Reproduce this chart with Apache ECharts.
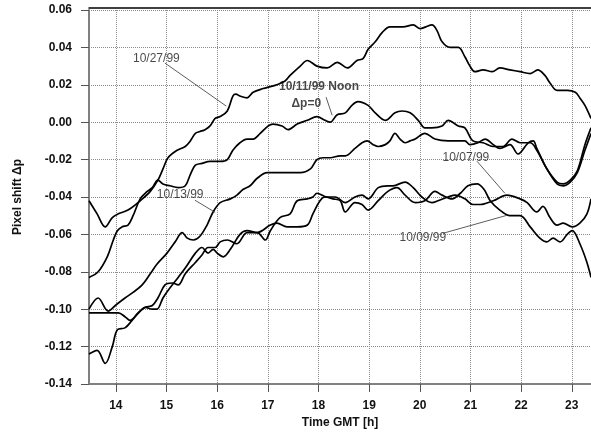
<!DOCTYPE html>
<html>
<head>
<meta charset="utf-8">
<script src="https://cdn.jsdelivr.net/npm/echarts@6/dist/echarts.min.js"></script>
<style>
  html, body { margin: 0; padding: 0; background: #fff; }
  #main { width: 591px; height: 434px; }
</style>
</head>
<body>
<div id="main"></div>
<script>
// pixel shift (Δp) against time GMT [h], one array per date
var d1027 = [
  [13.47,-0.042],[13.63,-0.049],[13.79,-0.056],[13.93,-0.051],[14.05,-0.049],[14.24,-0.047],[14.48,-0.042],
  [14.68,-0.037],[14.83,-0.031],[14.93,-0.025],[15.03,-0.019],[15.21,-0.015],[15.37,-0.013],[15.47,-0.010],
  [15.57,-0.006],[15.66,-0.005],[15.76,-0.004],[15.86,-0.002],[15.96,0.002],[16.06,0.003],[16.20,0.006],
  [16.31,0.014],[16.37,0.015],[16.45,0.014],[16.59,0.013],[16.71,0.016],[16.91,0.018],[17.05,0.019],
  [17.18,0.020],[17.34,0.022],[17.44,0.025],[17.64,0.030],[17.78,0.033],[17.97,0.030],[18.17,0.029],
  [18.37,0.032],[18.57,0.029],[18.76,0.033],[18.88,0.034],[18.98,0.039],[19.12,0.043],[19.26,0.048],
  [19.41,0.051],[19.67,0.051],[19.87,0.052],[20.01,0.050],[20.12,0.051],[20.24,0.052],[20.34,0.049],
  [20.44,0.043],[20.60,0.040],[20.76,0.040],[20.89,0.035],[20.99,0.030],[21.09,0.027],[21.25,0.028],
  [21.43,0.027],[21.58,0.029],[21.78,0.028],[21.98,0.027],[22.18,0.026],[22.33,0.028],[22.47,0.025],
  [22.57,0.021],[22.71,0.017],[22.91,0.017],[23.07,0.016],[23.16,0.013],[23.26,0.009],[23.38,0.002]
];
var d1011 = [
  [13.47,-0.083],[13.65,-0.080],[13.83,-0.072],[13.95,-0.063],[14.03,-0.058],[14.12,-0.056],[14.24,-0.055],
  [14.34,-0.050],[14.48,-0.041],[14.62,-0.037],[14.72,-0.035],[14.83,-0.031],[14.93,-0.033],[15.07,-0.034],
  [15.23,-0.035],[15.37,-0.034],[15.47,-0.028],[15.57,-0.023],[15.70,-0.022],[15.86,-0.021],[16.06,-0.021],
  [16.20,-0.020],[16.31,-0.015],[16.45,-0.011],[16.59,-0.009],[16.71,-0.009],[16.85,-0.006],[17.01,-0.002],
  [17.10,-0.001],[17.28,-0.002],[17.40,-0.004],[17.58,-0.001],[17.78,0.001],[17.97,0.003],[18.13,0.001],
  [18.23,0.000],[18.37,0.004],[18.53,0.005],[18.66,0.009],[18.78,0.011],[18.98,0.009],[19.12,0.005],
  [19.32,0.001],[19.51,0.005],[19.65,0.006],[19.81,0.005],[19.97,0.001],[20.10,-0.003],[20.24,-0.003],
  [20.44,-0.002],[20.56,0.001],[20.76,-0.002],[20.89,-0.003],[21.05,-0.010],[21.25,-0.011],[21.45,-0.013],
  [21.64,-0.013],[21.82,-0.009],[21.98,-0.011],[22.18,-0.011],[22.31,-0.015],[22.51,-0.025],[22.71,-0.032],
  [22.83,-0.033],[22.97,-0.031],[23.11,-0.026],[23.26,-0.012],[23.38,-0.003]
];
var d1013 = [
  [13.47,-0.100],[13.65,-0.094],[13.85,-0.101],[13.99,-0.098],[14.18,-0.094],[14.34,-0.091],[14.52,-0.087],
  [14.68,-0.081],[14.81,-0.076],[15.01,-0.070],[15.17,-0.064],[15.31,-0.059],[15.41,-0.062],[15.53,-0.063],
  [15.66,-0.061],[15.80,-0.055],[15.92,-0.048],[16.06,-0.043],[16.26,-0.041],[16.39,-0.039],[16.51,-0.036],
  [16.65,-0.034],[16.79,-0.030],[16.99,-0.027],[17.18,-0.027],[17.38,-0.027],[17.64,-0.027],[17.84,-0.025],
  [17.97,-0.020],[18.09,-0.019],[18.23,-0.019],[18.43,-0.018],[18.53,-0.018],[18.72,-0.014],[18.86,-0.011],
  [18.96,-0.010],[19.08,-0.012],[19.18,-0.013],[19.32,-0.012],[19.41,-0.010],[19.51,-0.006],[19.61,-0.009],
  [19.71,-0.011],[19.81,-0.010],[19.91,-0.009],[20.10,-0.006],[20.30,-0.009],[20.56,-0.010],[20.76,-0.010],
  [20.89,-0.010],[20.99,-0.012],[21.15,-0.011],[21.29,-0.009],[21.45,-0.012],[21.58,-0.014],[21.78,-0.012],
  [21.94,-0.017],[22.14,-0.011],[22.24,-0.010],[22.31,-0.014],[22.51,-0.025],[22.71,-0.033],[22.83,-0.034],
  [22.97,-0.032],[23.11,-0.027],[23.26,-0.015],[23.38,-0.006]
];
var d1007 = [
  [13.47,-0.102],[13.63,-0.102],[13.79,-0.102],[14.05,-0.102],[14.18,-0.104],[14.28,-0.106],[14.44,-0.102],
  [14.58,-0.099],[14.72,-0.098],[14.83,-0.094],[14.97,-0.087],[15.11,-0.086],[15.23,-0.087],[15.37,-0.081],
  [15.57,-0.075],[15.70,-0.071],[15.82,-0.067],[15.96,-0.067],[16.06,-0.064],[16.20,-0.063],[16.39,-0.065],
  [16.59,-0.059],[16.79,-0.059],[16.95,-0.063],[17.05,-0.058],[17.24,-0.051],[17.44,-0.049],[17.58,-0.042],
  [17.78,-0.041],[17.89,-0.040],[17.97,-0.038],[18.17,-0.040],[18.33,-0.040],[18.53,-0.043],[18.72,-0.040],
  [18.86,-0.039],[18.98,-0.041],[19.18,-0.035],[19.37,-0.034],[19.47,-0.034],[19.71,-0.032],[19.87,-0.035],
  [20.04,-0.040],[20.24,-0.043],[20.36,-0.042],[20.56,-0.040],[20.70,-0.039],[20.89,-0.041],[21.05,-0.044],
  [21.19,-0.044],[21.45,-0.042],[21.72,-0.039],[21.98,-0.041],[22.12,-0.043],[22.31,-0.048],[22.43,-0.045],
  [22.57,-0.051],[22.71,-0.055],[22.83,-0.054],[23.01,-0.056],[23.16,-0.054],[23.30,-0.049],[23.38,-0.041]
];
var d1009 = [
  [13.47,-0.124],[13.63,-0.122],[13.79,-0.129],[13.93,-0.120],[14.03,-0.111],[14.18,-0.110],[14.32,-0.106],
  [14.48,-0.101],[14.58,-0.099],[14.72,-0.100],[14.81,-0.100],[14.93,-0.094],[15.03,-0.090],[15.23,-0.083],
  [15.37,-0.078],[15.57,-0.070],[15.70,-0.067],[15.82,-0.070],[15.92,-0.068],[16.00,-0.070],[16.12,-0.072],
  [16.26,-0.068],[16.45,-0.060],[16.59,-0.058],[16.79,-0.059],[17.05,-0.055],[17.18,-0.054],[17.38,-0.056],
  [17.58,-0.056],[17.78,-0.055],[17.89,-0.049],[18.03,-0.042],[18.13,-0.040],[18.29,-0.041],[18.43,-0.042],
  [18.53,-0.048],[18.72,-0.043],[18.86,-0.044],[18.98,-0.047],[19.18,-0.042],[19.37,-0.037],[19.55,-0.035],
  [19.71,-0.039],[19.91,-0.043],[20.10,-0.042],[20.30,-0.037],[20.44,-0.039],[20.64,-0.041],[20.80,-0.038],
  [20.95,-0.034],[21.13,-0.033],[21.27,-0.036],[21.39,-0.042],[21.58,-0.047],[21.78,-0.050],[21.98,-0.050],
  [22.18,-0.056],[22.37,-0.062],[22.51,-0.064],[22.63,-0.062],[22.77,-0.064],[22.91,-0.060],[23.01,-0.058],
  [23.16,-0.065],[23.30,-0.075],[23.38,-0.083]
];

// annotation texts: [label, hour, shift, bold]
var noteTexts = [
  ["10/27/99", 14.80, 0.034, false],
  ["10/11/99 Noon", 18.01, 0.019, true],
  ["\u0394p=0", 17.76, 0.010, true],
  ["10/13/99", 15.27, -0.039, false],
  ["10/07/99", 20.91, -0.019, false],
  ["10/09/99", 20.06, -0.0615, false]
];
// leader lines: [[hour, shift], [hour, shift]]
var noteLines = [
  [[14.97, 0.0316], [16.18, 0.0086]],
  [[18.15, 0.0134], [18.27, 0.0037]],
  [[15.56, -0.0417], [15.96, -0.0482]],
  [[21.13, -0.0209], [21.68, -0.038]],
  [[20.46, -0.0594], [21.72, -0.0498]]
];

var font = "Liberation Sans, Arial, Helvetica, sans-serif";
var chart = echarts.init(document.getElementById("main"));

var series = [];
[d1027, d1011, d1013, d1007, d1009].forEach(function (d) {
  series.push({
    type: "line",
    data: d,
    smooth: 0.35,
    symbol: "none",
    silent: true,
    lineStyle: { color: "#000", width: 1.7 }
  });
});
noteLines.forEach(function (l) {
  series.push({
    type: "line",
    data: l,
    symbol: "none",
    silent: true,
    lineStyle: { color: "#333", width: 0.8 }
  });
});
noteTexts.forEach(function (t) {
  series.push({
    type: "scatter",
    data: [[t[1], t[2]]],
    symbolSize: 1,
    itemStyle: { color: "rgba(0,0,0,0)" },
    silent: true,
    label: {
      show: true,
      position: "inside",
      formatter: t[0],
      color: "#1a1a1a",
      fontSize: 12,
      fontFamily: font,
      fontWeight: t[3] ? "bold" : "normal"
    }
  });
});

var option = {
  animation: false,
  backgroundColor: "#fff",
  grid: { left: 89, right: 0, top: 10, bottom: 50 },
  xAxis: [
    {
      type: "value",
      min: 13.47,
      max: 23.38,
      splitNumber: 10,
      name: "Time GMT [h]",
      nameLocation: "middle",
      nameGap: 31,
      nameTextStyle: { fontFamily: font, fontWeight: "bold", fontSize: 12, color: "#111" },
      axisLine: { onZero: false, lineStyle: { color: "#808080", width: 2 } },
      axisTick: { length: 8, lineStyle: { color: "#555", width: 1 } },
      axisLabel: {
        margin: 16,
        fontFamily: font,
        fontWeight: "bold",
        fontSize: 12,
        color: "#111",
        showMinLabel: false,
        showMaxLabel: false,
        formatter: function (v) {
          return Math.abs(v - Math.round(v)) < 1e-6 ? String(Math.round(v)) : "";
        }
      },
      splitLine: { show: true, lineStyle: { type: "dotted", color: "#8a8a8a", width: 1 } }
    },
    {
      // top frame line
      type: "value",
      position: "top",
      offset: 2,
      min: 13.47,
      max: 23.38,
      axisLine: { show: true, onZero: false, lineStyle: { color: "#000", width: 1.5 } },
      axisTick: { show: false },
      axisLabel: { show: false },
      splitLine: { show: false }
    }
  ],
  yAxis: {
    type: "value",
    min: -0.14,
    max: 0.06,
    interval: 0.02,
    name: "Pixel shift \u0394p",
    nameLocation: "middle",
    nameGap: 65,
    nameTextStyle: { fontFamily: font, fontWeight: "bold", fontSize: 12, color: "#111" },
    axisLine: { show: true, onZero: false, lineStyle: { color: "#808080", width: 2 } },
    axisTick: { show: true, length: 8, lineStyle: { color: "#555", width: 1 } },
    axisLabel: {
      margin: 17,
      fontFamily: font,
      fontWeight: "bold",
      fontSize: 12,
      color: "#111",
      formatter: function (v) {
        if (Math.abs(v) < 1e-9) v = 0;
        return v.toFixed(2);
      }
    },
    splitLine: { show: true, lineStyle: { type: "dotted", color: "#8a8a8a", width: 1 } }
  },
  series: series
};

chart.setOption(option);
</script>
</body>
</html>
